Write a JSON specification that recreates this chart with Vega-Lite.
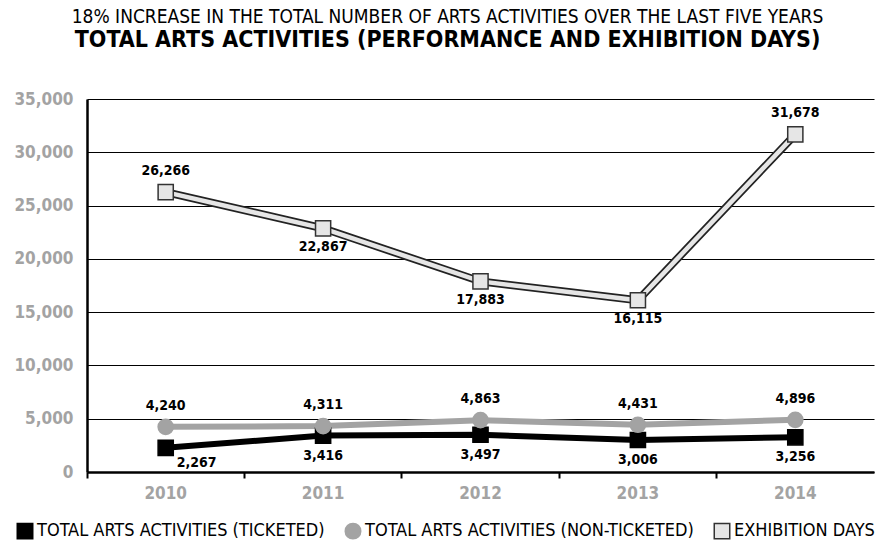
{
  "$schema": "https://vega.github.io/schema/vega-lite/v6.json",
  "width": 787,
  "height": 373,
  "autosize": {"type": "none"},
  "padding": {"left": 87, "top": 99, "right": 9, "bottom": 71},
  "background": "white",
  "title": {
    "text": "18% INCREASE IN THE TOTAL NUMBER OF ARTS ACTIVITIES OVER THE LAST FIVE YEARS",
    "subtitle": "TOTAL ARTS ACTIVITIES (PERFORMANCE AND EXHIBITION DAYS)",
    "anchor": "middle",
    "frame": "group",
    "dx": -33,
    "offset": 38,
    "font": "DejaVu Sans Condensed",
    "fontSize": 19,
    "fontWeight": "normal",
    "color": "black",
    "subtitleFont": "DejaVu Sans Condensed",
    "subtitleFontSize": 23,
    "subtitleFontWeight": "bold",
    "subtitleColor": "black",
    "subtitlePadding": 2
  },
  "config": {
    "view": {"stroke": null},
    "font": "DejaVu Sans Condensed"
  },
  "data": {
    "values": [
      {"year": "2010", "series": "TOTAL ARTS ACTIVITIES (TICKETED)", "value": 2267},
      {"year": "2011", "series": "TOTAL ARTS ACTIVITIES (TICKETED)", "value": 3416},
      {"year": "2012", "series": "TOTAL ARTS ACTIVITIES (TICKETED)", "value": 3497},
      {"year": "2013", "series": "TOTAL ARTS ACTIVITIES (TICKETED)", "value": 3006},
      {"year": "2014", "series": "TOTAL ARTS ACTIVITIES (TICKETED)", "value": 3256},
      {"year": "2010", "series": "TOTAL ARTS ACTIVITIES (NON-TICKETED)", "value": 4240},
      {"year": "2011", "series": "TOTAL ARTS ACTIVITIES (NON-TICKETED)", "value": 4311},
      {"year": "2012", "series": "TOTAL ARTS ACTIVITIES (NON-TICKETED)", "value": 4863},
      {"year": "2013", "series": "TOTAL ARTS ACTIVITIES (NON-TICKETED)", "value": 4431},
      {"year": "2014", "series": "TOTAL ARTS ACTIVITIES (NON-TICKETED)", "value": 4896},
      {"year": "2010", "series": "EXHIBITION DAYS", "value": 26266},
      {"year": "2011", "series": "EXHIBITION DAYS", "value": 22867},
      {"year": "2012", "series": "EXHIBITION DAYS", "value": 17883},
      {"year": "2013", "series": "EXHIBITION DAYS", "value": 16115},
      {"year": "2014", "series": "EXHIBITION DAYS", "value": 31678}
    ]
  },
  "encoding": {
    "x": {
      "field": "year", "type": "ordinal",
      "scale": {"type": "band", "paddingInner": 0, "paddingOuter": 0},
      "bandPosition": 0.5,
      "axis": {
        "title": null, "labelAngle": 0, "bandPosition": 0,
        "domainColor": "black", "domainWidth": 2.5,
        "tickColor": "black", "tickWidth": 2, "tickSize": 6,
        "labelColor": "#a3a3a3", "labelFontSize": 17, "labelFontWeight": "bold",
        "labelFont": "DejaVu Sans Condensed", "labelPadding": 7
      }
    },
    "y": {
      "field": "value", "type": "quantitative",
      "scale": {"domain": [0, 35000]},
      "axis": {
        "title": null, "tickCount": 7, "format": ",d",
        "domainColor": "black", "domainWidth": 2.5,
        "ticks": false, "labelPadding": 14,
        "gridColor": "black", "gridWidth": 1.2,
        "labelColor": "#a3a3a3", "labelFontSize": 17, "labelFontWeight": "bold",
        "labelFont": "DejaVu Sans Condensed"
      }
    }
  },
  "layer": [
    {
      "transform": [{"filter": "datum.series == 'EXHIBITION DAYS'"}],
      "mark": {"type": "line", "color": "#222222", "strokeWidth": 8}
    },
    {
      "transform": [{"filter": "datum.series == 'EXHIBITION DAYS'"}],
      "mark": {"type": "line", "color": "#e6e6e6", "strokeWidth": 4.5}
    },
    {
      "transform": [{"filter": "datum.series == 'TOTAL ARTS ACTIVITIES (NON-TICKETED)'"}],
      "mark": {"type": "line", "color": "#a3a3a3", "strokeWidth": 6}
    },
    {
      "transform": [{"filter": "datum.series == 'TOTAL ARTS ACTIVITIES (TICKETED)'"}],
      "mark": {"type": "line", "color": "black", "strokeWidth": 6}
    },
    {
      "mark": {"type": "point", "filled": true, "opacity": 1, "strokeWidth": 1.5, "size": 230},
      "encoding": {
        "shape": {
          "field": "series", "type": "nominal",
          "scale": {"domain": ["TOTAL ARTS ACTIVITIES (TICKETED)", "TOTAL ARTS ACTIVITIES (NON-TICKETED)", "EXHIBITION DAYS"], "range": ["square", "circle", "square"]},
          "legend": {
            "title": null, "orient": "none", "direction": "horizontal",
            "legendX": -71, "legendY": 423,
            "symbolSize": 240, "symbolStrokeWidth": 1.5,
            "labelFontSize": 18, "labelColor": "black", "labelFont": "DejaVu Sans Condensed",
            "labelLimit": 400, "columnPadding": 17, "labelOffset": 3
          }
        },
        "fill": {
          "field": "series", "type": "nominal",
          "scale": {"domain": ["TOTAL ARTS ACTIVITIES (TICKETED)", "TOTAL ARTS ACTIVITIES (NON-TICKETED)", "EXHIBITION DAYS"], "range": ["black", "#a3a3a3", "#e6e6e6"]},
          "legend": {
            "title": null, "orient": "none", "direction": "horizontal",
            "legendX": -71, "legendY": 423,
            "symbolSize": 240, "symbolStrokeWidth": 1.5,
            "labelFontSize": 18, "labelColor": "black", "labelFont": "DejaVu Sans Condensed",
            "labelLimit": 400, "columnPadding": 17, "labelOffset": 3
          }
        },
        "stroke": {
          "field": "series", "type": "nominal",
          "scale": {"domain": ["TOTAL ARTS ACTIVITIES (TICKETED)", "TOTAL ARTS ACTIVITIES (NON-TICKETED)", "EXHIBITION DAYS"], "range": ["black", "#a3a3a3", "#333333"]},
          "legend": {
            "title": null, "orient": "none", "direction": "horizontal",
            "legendX": -71, "legendY": 423,
            "symbolSize": 240, "symbolStrokeWidth": 1.5,
            "labelFontSize": 18, "labelColor": "black", "labelFont": "DejaVu Sans Condensed",
            "labelLimit": 400, "columnPadding": 17, "labelOffset": 3
          }
        }
      }
    },
    {
      "transform": [{"filter": "datum.series == 'EXHIBITION DAYS' && (datum.year == '2010' || datum.year == '2014')"}],
      "mark": {"type": "text", "dy": -21, "fontSize": 14, "fontWeight": "bold", "color": "black"},
      "encoding": {"text": {"field": "value", "type": "quantitative", "format": ",d"}}
    },
    {
      "transform": [{"filter": "datum.series == 'EXHIBITION DAYS' && datum.year != '2010' && datum.year != '2014'"}],
      "mark": {"type": "text", "dy": 19, "fontSize": 14, "fontWeight": "bold", "color": "black"},
      "encoding": {"text": {"field": "value", "type": "quantitative", "format": ",d"}}
    },
    {
      "transform": [{"filter": "datum.series == 'TOTAL ARTS ACTIVITIES (NON-TICKETED)'"}],
      "mark": {"type": "text", "dy": -21, "fontSize": 14, "fontWeight": "bold", "color": "black"},
      "encoding": {"text": {"field": "value", "type": "quantitative", "format": ",d"}}
    },
    {
      "transform": [{"filter": "datum.series == 'TOTAL ARTS ACTIVITIES (TICKETED)' && datum.year != '2010'"}],
      "mark": {"type": "text", "dy": 20, "fontSize": 14, "fontWeight": "bold", "color": "black"},
      "encoding": {"text": {"field": "value", "type": "quantitative", "format": ",d"}}
    },
    {
      "transform": [{"filter": "datum.series == 'TOTAL ARTS ACTIVITIES (TICKETED)' && datum.year == '2010'"}],
      "mark": {"type": "text", "dx": 31, "dy": 15, "fontSize": 14, "fontWeight": "bold", "color": "black"},
      "encoding": {"text": {"field": "value", "type": "quantitative", "format": ",d"}}
    }
  ]
}
